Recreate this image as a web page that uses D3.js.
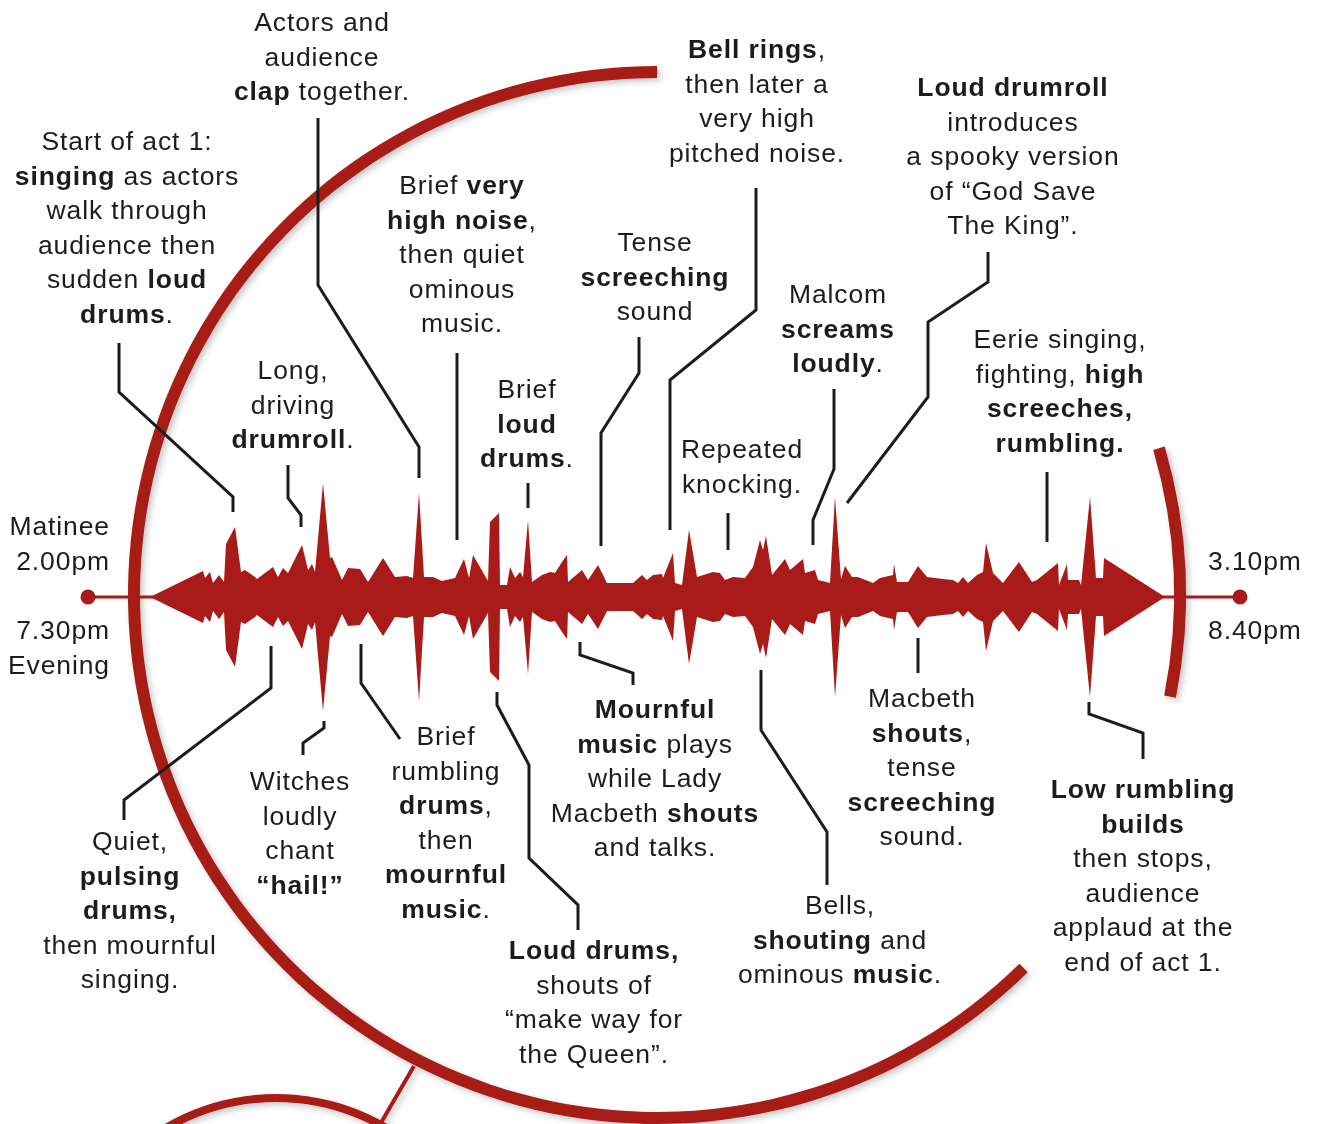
<!DOCTYPE html>
<html>
<head>
<meta charset="utf-8">
<script src="https://cdn.jsdelivr.net/npm/d3@7"></script>
<style>
  body { margin: 0; background: #fff; }
  svg { display: block; }
  .note {
    font-family: "Liberation Sans", Arial, Helvetica, sans-serif;
    font-size: 26.5px;
    fill: #1c1c1c;
    letter-spacing: 0.9px;
  }
  .leader { fill: none; stroke: #1c1c1c; stroke-width: 3; }
</style>
</head>
<body>
<svg id="chart"></svg>
<script>
// sound waveform of act 1: [position along the act, loudness]
const wave = [
  [0, 0], [53, 26], [55, 19], [60, 25], [63, 14], [69, 22], [74, 15], [76, 53],
  [85, 70], [91, 25], [95, 27], [105, 20], [107, 18], [123, 30], [128, 20],
  [133, 29], [138, 24], [152, 52], [158, 27], [162, 33], [165, 25], [173, 114],
  [180, 39], [182, 40], [192, 17], [198, 29], [210, 28], [218, 15], [233, 39],
  [245, 20], [257, 21], [263, 19], [269, 104], [274, 20], [283, 20], [292, 16],
  [305, 19], [314, 38], [319, 19], [323, 42], [338, 16], [340, 75], [349, 84],
  [350, 12], [357, 12], [360, 30], [365, 19], [370, 25], [373, 20], [378, 77],
  [382, 15], [392, 22], [400, 25], [405, 24], [412, 35], [417, 42], [418, 15],
  [432, 27], [438, 17], [448, 32], [457, 14], [483, 14], [492, 22], [497, 17],
  [503, 22], [512, 23], [513, 19], [523, 44], [525, 14], [532, 12], [539, 67],
  [547, 20], [563, 25], [570, 24], [575, 17], [583, 20], [595, 19], [603, 30],
  [610, 57], [613, 47], [616, 61], [622, 22], [635, 38], [640, 27], [653, 38],
  [655, 24], [665, 27], [668, 17], [680, 14], [685, 100], [691, 18], [695, 31],
  [702, 20], [708, 20], [723, 14], [730, 19], [743, 22], [744, 33], [747, 15],
  [758, 15], [768, 31], [777, 20], [793, 18], [803, 17], [808, 14], [813, 20],
  [818, 14], [827, 22], [833, 25], [836, 54], [843, 24], [853, 14], [869, 35],
  [882, 15], [887, 17], [908, 34], [909, 12], [917, 33], [918, 17], [929, 17],
  [931, 12], [940, 100], [946, 19], [953, 19], [954, 39], [1015, 0]
];

// start and end of the time line (same units as the waveform)
const timeline = [-62, 1090];
const startTimes = ["Matinee", "2.00pm"];
const startTimesEve = ["7.30pm", "Evening"];
const endTimes = ["3.10pm"];
const endTimesEve = ["8.40pm"];

// annotations: text lines (**bold**) with leader lines
const notes = [
  { x: 322, y: 22, lines: ["Actors and", "audience", "**clap** together."],
    leader: [[318, 118], [318, 285], [419, 447], [419, 478]] },
  { x: 127, y: 141, lines: ["Start of act 1:", "**singing** as actors", "walk through", "audience then", "sudden **loud**", "**drums**."],
    leader: [[119, 343], [119, 392], [233, 497], [233, 512]] },
  { x: 462, y: 185, lines: ["Brief **very**", "**high noise**,", "then quiet", "ominous", "music."],
    leader: [[457, 353], [457, 540]] },
  { x: 293, y: 370, lines: ["Long,", "driving", "**drumroll**."],
    leader: [[288, 465], [288, 498], [301, 515], [301, 527]] },
  { x: 757, y: 49, lines: ["**Bell rings**,", "then later a", "very high", "pitched noise."],
    leader: [[756, 188], [756, 310], [670, 380], [670, 530]] },
  { x: 1013, y: 87, lines: ["**Loud drumroll**", "introduces", "a spooky version", "of \u201cGod Save", "The King\u201d."],
    leader: [[988, 252], [988, 282], [928, 322], [928, 397], [847, 503]] },
  { x: 655, y: 242, lines: ["Tense", "**screeching**", "sound"],
    leader: [[639, 337], [639, 373], [601, 433], [601, 546]] },
  { x: 527, y: 389, lines: ["Brief", "**loud**", "**drums**."],
    leader: [[528, 483], [528, 508]] },
  { x: 838, y: 294, lines: ["Malcom", "**screams**", "**loudly**."],
    leader: [[834, 389], [834, 469], [813, 520], [813, 545]] },
  { x: 742, y: 449, lines: ["Repeated", "knocking."],
    leader: [[728, 513], [728, 550]] },
  { x: 1060, y: 339, lines: ["Eerie singing,", "fighting, **high**", "**screeches,**", "**rumbling.**"],
    leader: [[1047, 472], [1047, 542]] },
  { x: 130, y: 841, lines: ["Quiet,", "**pulsing**", "**drums,**", "then mournful", "singing."],
    leader: [[271, 646], [271, 688], [124, 800], [124, 820]] },
  { x: 300, y: 781, lines: ["Witches", "loudly", "chant", "**\u201chail!\u201d**"],
    leader: [[324, 721], [324, 728], [303, 743], [303, 755]] },
  { x: 446, y: 736, lines: ["Brief", "rumbling", "**drums**,", "then", "**mournful**", "**music**."],
    leader: [[361, 644], [361, 683], [400, 739]] },
  { x: 655, y: 709, lines: ["**Mournful**", "**music** plays", "while Lady", "Macbeth **shouts**", "and talks."],
    leader: [[580, 642], [580, 655], [633, 673], [633, 685]] },
  { x: 594, y: 950, lines: ["**Loud drums,**", "shouts of", "\u201cmake way for", "the Queen\u201d."],
    leader: [[497, 692], [497, 705], [529, 765], [529, 858], [578, 905], [578, 930]] },
  { x: 840, y: 905, lines: ["Bells,", "**shouting** and", "ominous **music**."],
    leader: [[761, 670], [761, 730], [827, 832], [827, 885]] },
  { x: 922, y: 698, lines: ["Macbeth", "**shouts**,", "tense", "**screeching**", "sound."],
    leader: [[918, 638], [918, 673]] },
  { x: 1143, y: 789, lines: ["**Low rumbling**", "**builds**", "then stops,", "audience", "applaud at the", "end of act 1."],
    leader: [[1089, 702], [1089, 714], [1143, 733], [1143, 759]] }
];

const width = 1317, height = 1124;
const red = "#a81b18";
const lineH = 34.5;

const svg = d3.select("#chart").attr("width", width).attr("height", height);

const filter = svg.append("defs").append("filter")
  .attr("id", "shadow")
  .attr("x", "-20%").attr("y", "-20%")
  .attr("width", "140%").attr("height", "140%");
filter.append("feDropShadow")
  .attr("dx", 3).attr("dy", 3)
  .attr("stdDeviation", 3)
  .attr("flood-color", "#000")
  .attr("flood-opacity", 0.22);

const x = d3.scaleLinear().domain([0, 1015]).range([150, 1165]);
const y = d3.scaleLinear().domain([-120, 120]).range([717, 477]);

// big ring round the act
const ring = { cx: 657, cy: 595, r: 523, w: 12 };
const deg = Math.PI / 180;
const ringArc = d3.arc().innerRadius(ring.r - ring.w / 2).outerRadius(ring.r + ring.w / 2);

const rings = svg.append("g").attr("filter", "url(#shadow)");

// link down to the next act
rings.append("line")
  .attr("x1", 414).attr("y1", 1066)
  .attr("x2", 371).attr("y2", 1140)
  .attr("stroke", red)
  .attr("stroke-width", 4);
rings.append("circle")
  .attr("cx", 276).attr("cy", 1315).attr("r", 217)
  .attr("fill", "none")
  .attr("stroke", red)
  .attr("stroke-width", 8);

rings.append("path")
  .attr("transform", `translate(${ring.cx},${ring.cy})`)
  .attr("d", ringArc({ startAngle: 0, endAngle: -224.5 * deg }))
  .attr("fill", red);
rings.append("path")
  .attr("transform", `translate(${ring.cx},${ring.cy})`)
  .attr("d", ringArc({ startAngle: 73.7 * deg, endAngle: 101.2 * deg }))
  .attr("fill", red);

// time line with end dots
svg.append("line")
  .attr("x1", x(timeline[0])).attr("x2", x(timeline[1]))
  .attr("y1", y(0)).attr("y2", y(0))
  .attr("stroke", red)
  .attr("stroke-width", 3);
svg.selectAll(".dot")
  .data(timeline)
  .join("circle")
  .attr("class", "dot")
  .attr("cx", (d) => x(d))
  .attr("cy", y(0))
  .attr("r", 7.5)
  .attr("fill", red);

// mirrored waveform
const area = d3.area()
  .x((d) => x(d[0]))
  .y0((d) => y(-d[1]))
  .y1((d) => y(d[1]));
svg.append("path")
  .datum(wave)
  .attr("d", area)
  .attr("fill", red);

// leader lines
svg.selectAll(".leader")
  .data(notes)
  .join("path")
  .attr("class", "leader")
  .attr("d", (d) => d3.line()(d.leader));

const drawText = (lines, px, py, anchor) => {
  const t = svg.append("text")
    .attr("class", "note")
    .attr("text-anchor", anchor);
  lines.forEach((line, i) => {
    const row = t.append("tspan")
      .attr("x", px)
      .attr("y", py + 9 + i * lineH);
    line.split("**").forEach((part, j) => {
      if (!part) return;
      row.append("tspan")
        .attr("font-weight", j % 2 ? "bold" : null)
        .text(part);
    });
  });
};

notes.forEach((n) => drawText(n.lines, n.x, n.y, "middle"));

drawText(startTimes, 110, 526, "end");
drawText(startTimesEve, 110, 630, "end");
drawText(endTimes, 1208, 561, "start");
drawText(endTimesEve, 1208, 630, "start");
</script>
</body>
</html>
